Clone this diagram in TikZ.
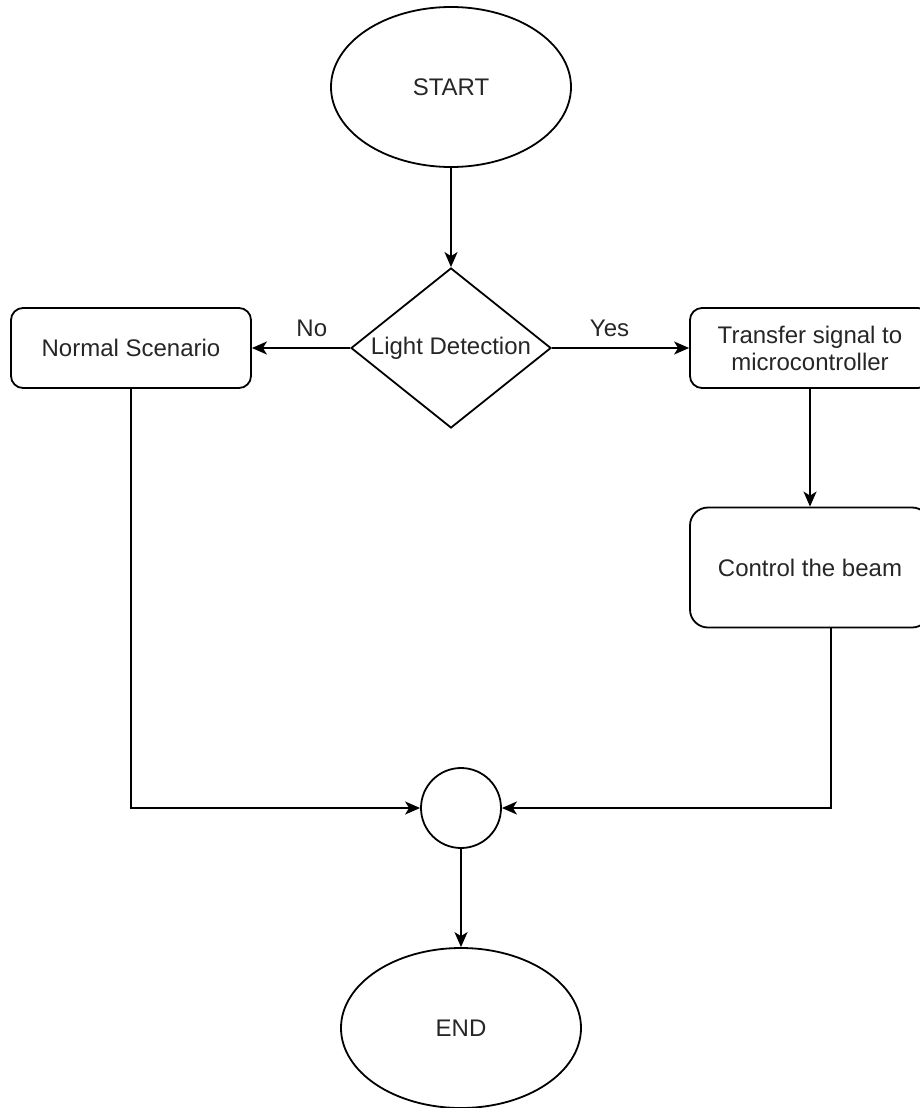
\documentclass[tikz,border=0pt]{standalone}
\usepackage{fontspec}
\setmainfont{Liberation Sans}
\usetikzlibrary{shapes.geometric,arrows.meta,positioning,calc}

\begin{document}
\begin{tikzpicture}[x=0.5pt, y=-0.5pt,
    every node/.style={font=\fontsize{12}{13.5}\selectfont, text=black!85},
    terminal/.style={draw, ellipse, line width=0.9pt, minimum width=120pt, minimum height=80pt, inner sep=0pt},
    decision/.style={draw, diamond, aspect=1.25, line width=0.9pt, minimum width=100pt, minimum height=80pt, inner sep=0pt},
    process/.style={draw, rounded corners=6pt, line width=0.9pt, minimum width=120pt, minimum height=40pt, align=center},
    junction/.style={draw, circle, line width=0.9pt, minimum size=40pt, inner sep=0pt},
    flow/.style={line width=0.9pt, -{Stealth[length=7.5pt, width=6.5pt, inset=2pt]}}
]
    \useasboundingbox (0,0) rectangle (920,1108);

    \node[terminal] (start) at (451,87) {START};
    \node[decision] (detect) at (451,348) {Light Detection};
    \node[process] (normal) at (131,348) {Normal Scenario};
    \node[process] (transfer) at (810,348) {Transfer signal to\\microcontroller};
    \node[process, minimum height=60pt, rounded corners=9pt] (beam) at (810,567.5) {Control the beam};
    \node[junction] (merge) at (461,808) {};
    \node[terminal] (finish) at (461,1028) {END};

    % connectors
    \draw[flow] (start) -- (detect);
    \draw[flow] (detect.west) -- node[pos=0.39, above, yshift=2pt] {No} (normal.east);
    \draw[flow] (detect.east) -- node[pos=0.42, above, yshift=2pt] {Yes} (transfer.west);
    \draw[flow] (transfer) -- (beam);
    \draw[flow] (normal.south) |- (merge.west);
    \draw[flow] ([xshift=10.5pt]beam.south) |- (merge.east);
    \draw[flow] (merge) -- (finish);
\end{tikzpicture}
\end{document}
